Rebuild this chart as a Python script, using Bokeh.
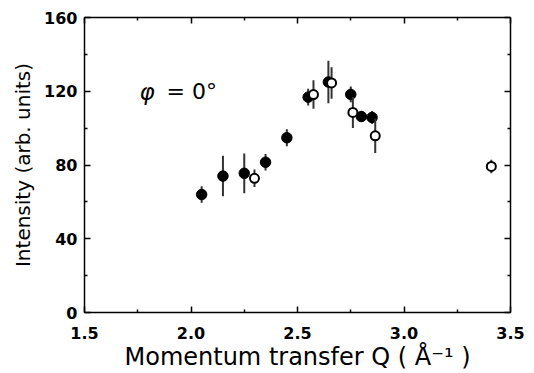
from bokeh.plotting import figure
from bokeh.models import LinearAxis, FixedTicker, Range1d, PrintfTickFormatter
from bokeh.core.properties import value
from bokeh.embed import file_html
from bokeh.resources import INLINE

# Filled symbols: intensity vs momentum transfer with error bars
filled_q = [2.05, 2.15, 2.25, 2.35, 2.45, 2.55, 2.645, 2.75, 2.80, 2.85]
filled_i = [64.0, 74.0, 75.5, 81.5, 94.8, 116.8, 125.0, 118.3, 106.3, 105.8]
filled_err = [4.5, 11.0, 10.8, 4.5, 4.6, 4.5, 11.5, 4.3, 3.0, 3.5]

# Open symbols
open_q = [2.298, 2.575, 2.66, 2.76, 2.865, 3.41]
open_i = [72.8, 118.2, 124.5, 108.5, 95.8, 79.2]
open_err = [4.7, 7.7, 8.5, 8.4, 9.3, 3.7]

x_ticks = [1.5, 2.0, 2.5, 3.0, 3.5]
y_ticks = [0, 40, 80, 120, 160]
x_minor = [1.75, 2.25, 2.75, 3.25]
y_minor = [20, 60, 100, 140]

FONT = "DejaVu Sans"

p = figure(width=534, height=373, output_backend="svg", toolbar_location=None,
           x_range=Range1d(1.5, 3.5), y_range=Range1d(0, 160),
           x_axis_type=None, y_axis_type=None,
           min_border_left=84, min_border_right=24,
           min_border_top=17, min_border_bottom=60)
p.xgrid.visible = False
p.ygrid.visible = False
p.outline_line_color = None
p.background_fill_color = "white"
p.border_fill_color = "white"


def style_axis(ax, show_labels):
    ax.axis_line_color = "black"
    ax.axis_line_width = 1.5
    ax.major_tick_in = 6
    ax.major_tick_out = 0
    ax.minor_tick_in = 3
    ax.minor_tick_out = 0
    ax.major_tick_line_width = 1.5
    ax.minor_tick_line_width = 1.5
    ax.major_tick_line_color = "black"
    ax.minor_tick_line_color = "black"
    if show_labels:
        ax.major_label_text_font = FONT
        ax.major_label_text_font_style = "bold"
        ax.major_label_text_font_size = "16px"
        ax.major_label_text_color = "black"
        ax.axis_label_text_font = FONT
        ax.axis_label_text_font_style = "normal"
        ax.axis_label_text_color = "black"
    else:
        ax.major_label_text_font_size = "0px"
        ax.major_label_text_color = None


xb = LinearAxis(ticker=FixedTicker(ticks=x_ticks, minor_ticks=x_minor),
                formatter=PrintfTickFormatter(format="%.1f"))
style_axis(xb, True)
xb.major_label_standoff = 14
xb.axis_label = "Momentum transfer Q ( Å⁻¹ )"
xb.axis_label_text_font_size = "24px"
xb.axis_label_standoff = 1
p.add_layout(xb, "below")

yl = LinearAxis(ticker=FixedTicker(ticks=y_ticks, minor_ticks=y_minor))
style_axis(yl, True)
yl.major_label_standoff = 7
yl.axis_label = "Intensity (arb. units)"
yl.axis_label_text_font_size = "20px"
yl.axis_label_standoff = 6
p.add_layout(yl, "left")

xt = LinearAxis(ticker=FixedTicker(ticks=x_ticks, minor_ticks=x_minor))
style_axis(xt, False)
p.add_layout(xt, "above")

yr = LinearAxis(ticker=FixedTicker(ticks=y_ticks, minor_ticks=y_minor))
style_axis(yr, False)
p.add_layout(yr, "right")

# error bars
p.segment(x0=filled_q, x1=filled_q,
          y0=[v - e for v, e in zip(filled_i, filled_err)],
          y1=[v + e for v, e in zip(filled_i, filled_err)],
          line_color="#333333", line_width=2)
p.scatter(filled_q, filled_i, marker="circle", size=10.5,
          fill_color="black", line_color="black")

p.segment(x0=open_q, x1=open_q,
          y0=[v - e for v, e in zip(open_i, open_err)],
          y1=[v + e for v, e in zip(open_i, open_err)],
          line_color="#333333", line_width=2)
p.scatter(open_q, open_i, marker="circle", size=9,
          fill_color="white", line_color="black", line_width=2)

# angle annotation
p.text(x=[1.758], y=[119.6], text=["φ"], text_font=value(FONT),
       text_font_style="italic", text_font_size="23px",
       text_baseline="alphabetic", text_align="left", text_color="black")
p.text(x=[1.885], y=[119.6], text=["= 0°"], text_font=value(FONT),
       text_font_size="22px", text_baseline="alphabetic",
       text_align="left", text_color="black")

open("out.html", "w").write(file_html(p, INLINE))
